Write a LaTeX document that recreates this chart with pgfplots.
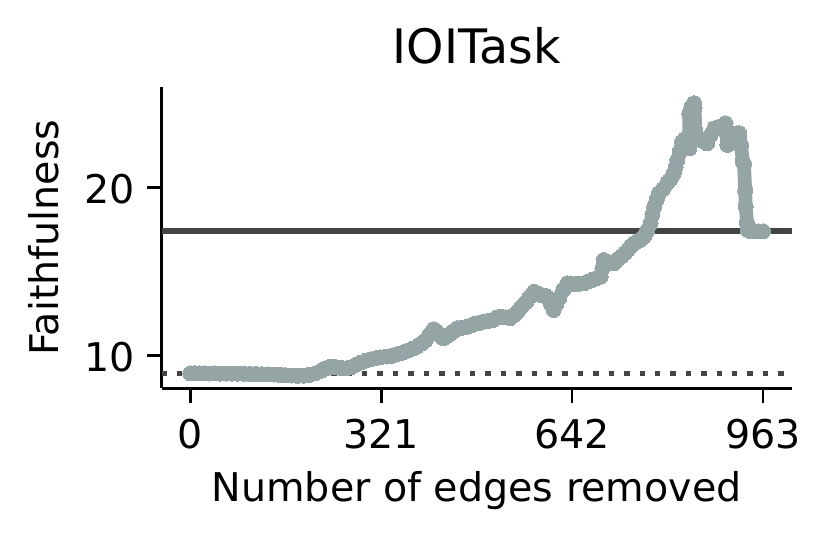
\documentclass[border=0pt]{standalone}
\usepackage{pgfplots}
\pgfplotsset{compat=1.18}
\usepackage{fontspec}
\setmainfont{DejaVu Sans}
\definecolor{curvecol}{HTML}{95A5A6}
\definecolor{refcol}{HTML}{444444}
\begin{document}
\begin{tikzpicture}
\useasboundingbox (-38.8pt,-36.16pt) rectangle (160.16pt,93.2pt);
\begin{axis}[
  at={(0,0)}, anchor=south west,
  scale only axis, width=151.2pt, height=72.4pt,
  xmin=-48.15, xmax=1011.15, ymin=8.06, ymax=25.97,
  axis x line*=bottom, axis y line*=left,
  axis line style={line width=0.65pt, -},
  tick style={line width=0.65pt, black},
  major tick length=3.4pt, tick align=outside,
  xtick={0,321,642,963}, ytick={10,20},
  /pgf/number format/assume math mode=true,
  /pgf/number format/1000 sep={},
  tick label style={font=\fontsize{9.5pt}{11pt}\selectfont, inner sep=0pt},
  xticklabel style={anchor=base, yshift=-11.0pt},
  yticklabel style={anchor=east, xshift=-2.9pt, yshift=-0.4pt},
  xlabel={Number of edges removed},
  ylabel={Faithfulness},
  label style={font=\fontsize{9.5pt}{11pt}\selectfont, inner sep=0pt},
  xlabel style={at={([yshift=-27.2pt]axis description cs:0.5,0)}, anchor=base},
  ylabel style={at={([xshift=-24.8pt]axis description cs:0,0.5)}, anchor=base, rotate=0},
  title={IOITask},
  every axis title/.style={font=\fontsize{11.4pt}{13pt}\selectfont, inner sep=0pt, at={([yshift=5.6pt]axis description cs:0.5,1)}, anchor=base},
  clip=false,
]
\addplot[color=curvecol, line width=3.3pt, line join=round, line cap=round,
  mark=*, mark size=1.8pt, mark options={fill=curvecol, draw=curvecol, line width=0pt}]
  table {
x y
0 8.95
8 8.96
16 8.95
24 8.95
32 8.94
40 8.95
50 8.94
60 8.94
70 8.93
80 8.93
90 8.92
100 8.91
110 8.91
120 8.90
130 8.89
140 8.88
150 8.86
160 8.84
170 8.82
180 8.80
190 8.81
200 8.86
210 8.95
220 9.10
228 9.25
236 9.35
244 9.32
252 9.28
262 9.25
270 9.31
278 9.45
286 9.58
295 9.70
303 9.79
312 9.85
320 9.90
330 9.95
340 10.00
347 10.08
353 10.14
360 10.22
367 10.32
374 10.42
381 10.53
388 10.70
395 10.90
402 11.25
409 11.57
414 11.45
418 11.30
422 11.15
426 11.03
431 11.15
437 11.30
443 11.45
449 11.63
457 11.65
466 11.72
473 11.82
480 11.90
487 11.95
494 12.02
501 12.06
508 12.10
515 12.25
522 12.32
530 12.28
538 12.22
544 12.40
550 12.60
557 12.90
565 13.20
571 13.50
578 13.80
584 13.70
590 13.60
595 13.55
600 13.50
606 13.10
611 12.71
615 13.05
620 13.40
627 13.90
634 14.30
641 14.25
648 14.25
655 14.28
662 14.30
669 14.40
676 14.50
683 14.60
690 14.69
693 15.20
695 15.68
700 15.60
704 15.55
712 15.48
718 15.70
725 15.90
731 16.10
736 16.30
741 16.50
746 16.67
751 16.78
755 16.85
759 16.95
763 17.07
768 17.40
774 17.86
777 18.40
780 18.85
784 19.25
788 19.64
795 19.90
802 20.24
808 20.50
813 20.83
816 21.20
819 21.62
823 22.10
827 22.71
831 22.85
835 22.75
839 22.30
839 24.39
843 24.80
847 24.99
848 24.70
849 23.40
853 23.00
860 22.80
865 22.70
869 22.61
875 23.10
881 23.50
887 23.55
893 23.60
900 23.80
902 23.20
903 22.51
908 22.60
913 22.90
918 23.20
923 23.21
926 22.51
929 21.52
931 21.40
933 19.80
934 18.85
936 17.90
937 17.46
942 17.40
948 17.40
955 17.38
963 17.38
};
\addplot[color=refcol, line width=1.3pt, forget plot] coordinates {(-48.15,17.40) (1011.15,17.40)};
\addplot[color=refcol, line width=1.3pt, dash pattern=on 1.3pt off 2.4pt, forget plot] coordinates {(-48.15,8.955) (1011.15,8.955)};
\end{axis}
\end{tikzpicture}
\end{document}
